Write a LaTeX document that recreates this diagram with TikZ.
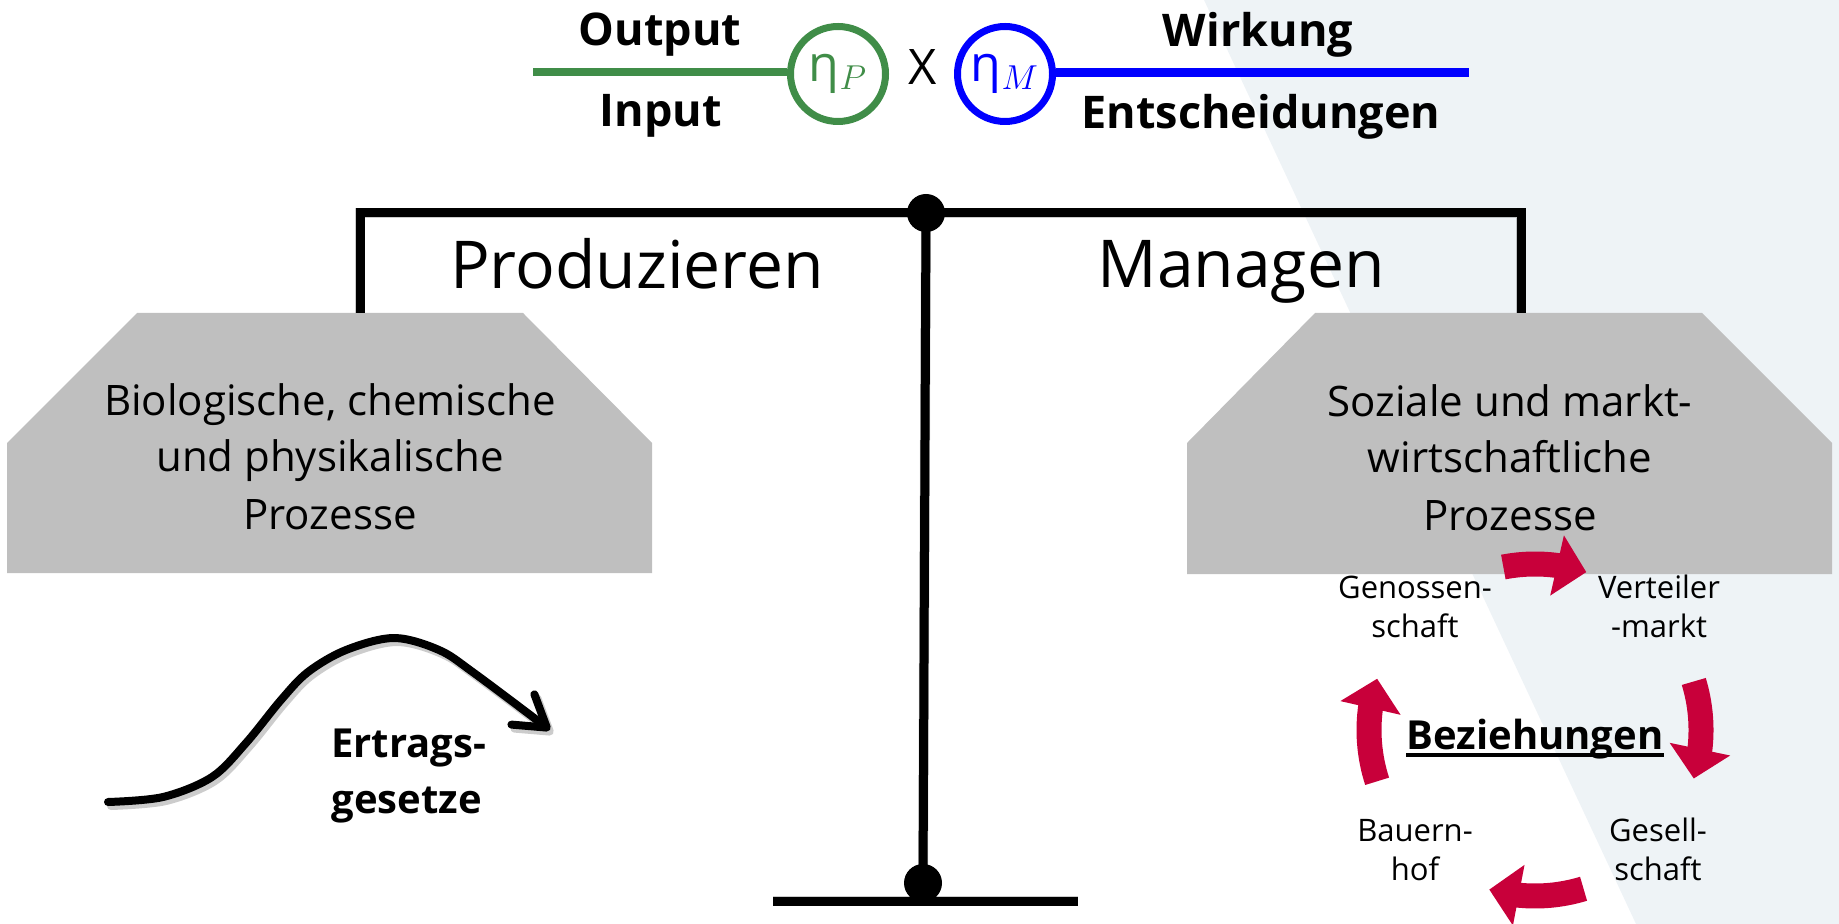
\documentclass[tikz,border=0pt]{standalone}
\usepackage{fontspec}
\setmainfont{Open Sans}
\usetikzlibrary{arrows.meta,bending}
\definecolor{pgreen}{RGB}{64,141,72}
\definecolor{mblue}{RGB}{0,0,255}
\definecolor{crim}{RGB}{200,0,58}
\definecolor{trapgrey}{RGB}{191,191,191}
\definecolor{bglight}{RGB}{238,243,246}
\begin{document}
\begin{tikzpicture}[x=0.5pt,y=-0.5pt,
  lbl/.style={inner sep=0pt, anchor=base},
  topbold/.style={lbl, font=\fontsize{22.5pt}{27pt}\selectfont\bfseries},
  bigword/.style={lbl, font=\fontsize{33pt}{40pt}\selectfont},
  traptext/.style={lbl, align=center, font=\fontsize{21pt}{28.5pt}\selectfont},
  cyclbl/.style={lbl, align=center, font=\fontsize{15.5pt}{19.5pt}\selectfont},
  etacirc/.style={circle, line width=3.5pt, minimum size=47.5pt, inner sep=0pt, font=\fontsize{25pt}{30pt}\selectfont},
  beam/.style={line width=4.5pt, black},
  beamshadow/.style={line width=5pt, black, opacity=0.2},
  pivot/.style={circle, fill=black, minimum size=19pt, inner sep=0pt},
  trap/.style={fill=trapgrey},
  redarrow/.style={crim, line width=12.5pt, -{Triangle[width=30pt,length=15pt]}},
  curve/.style={line width=4pt, line cap=round, line join=round, -{Straight Barb[length=15pt,width=19pt,round]}},
]
\useasboundingbox (0,0) rectangle (1839,924);
% background
\fill[bglight] (1204,0) -- (1839,0) -- (1839,924) -- (1636,924) -- cycle;

% trapezoids
\fill[trap] (137,313) -- (523,313) -- (652,443) -- (652,573) -- (7,573) -- (7,443) -- cycle;
\fill[trap] (1315,313) -- (1702,313) -- (1832,443) -- (1832,574) -- (1187,574) -- (1187,443) -- cycle;

% balance
\coordinate (bl) at (360,313);
\coordinate (bL) at (360,213);
\coordinate (bR) at (1521,213);
\coordinate (br) at (1521,313);
\coordinate (T) at (926,213);
\coordinate (B) at (923,883);
\coordinate (baseL) at (773,901);
\coordinate (baseR) at (1078,901);
\begin{scope}[shift={(3,4)}]
  \draw[beamshadow] (bl) -- (bL) -- (bR) -- (br);
  \draw[beamshadow] (T) -- (B);
  \draw[beamshadow] (baseL) -- (baseR);
\end{scope}
\draw[beam] (bl) -- (bL) -- (bR) -- (br);
\draw[beam] (T) -- (B);
\draw[beam] (baseL) -- (baseR);
\node[pivot] (topdot) at (T) {};
\node[pivot] (botdot) at (B) {};

% formula
\node[etacirc, draw=pgreen, text=pgreen] (etaP) at (838,74) {η$_{P}$};
\node[etacirc, draw=mblue, text=mblue] (etaM) at (1005,74) {η$_{M}$};
\coordinate (gL) at (533,72);
\coordinate (bEnd) at (1469,73);
\draw[pgreen, line width=4pt] (gL) -- (gL -| etaP.west);
\draw[mblue, line width=4.5pt] (bEnd -| etaM.east) -- (bEnd);
\node[lbl, font=\fontsize{24.5pt}{30pt}\selectfont] (times) at (923,85) {X};
\node[topbold] (output) at (660,46) {Output};
\node[topbold] (input) at (661,127) {Input};
\node[topbold] (wirkung) at (1258,47) {Wirkung};
\node[topbold] (entsch) at (1261,129) {Entscheidungen};

% headings
\node[bigword] (prod) at (637,289) {Produzieren};
\node[bigword] (manag) at (1241,288) {Managen};

% trapezoid texts (base = last line)
\node[traptext] (lefttext) at (330,529) {Biologische, chemische\\und physikalische\\Prozesse};
\node[traptext] (righttext) at (1510,530) {Soziale und markt-\\wirtschaftliche\\Prozesse};

% Ertragsgesetze
\begin{scope}[shift={(3,4)}]
\draw[curve, opacity=0.2] plot[smooth, tension=0.55] coordinates {(108,802) (163,797) (212,777) (246,743) (281,700) (308,672) (346,650) (394,638) (439,650) (474,673) (550,730)};
\end{scope}
\draw[curve] plot[smooth, tension=0.55] coordinates {(108,802) (163,797) (212,777) (246,743) (281,700) (308,672) (346,650) (394,638) (439,650) (474,673) (550,730)};
\node[lbl, anchor=base west, align=left, font=\fontsize{20pt}{28pt}\selectfont\bfseries] (ertrag) at (331,813) {Ertrags-\\gesetze};

% cycle
\node[cyclbl] (genossen) at (1415,637) {Genossen-\\schaft};
\node[cyclbl] (verteiler) at (1659,637) {Verteiler\\-markt};
\node[cyclbl] (bauern) at (1415,880) {Bauern-\\hof};
\node[cyclbl] (gesell) at (1658,880) {Gesell-\\schaft};
\node[lbl, font=\fontsize{20pt}{24pt}\selectfont\bfseries] (bez) at (1535,749) {Beziehungen};
\draw[line width=2pt] ([yshift=-3pt]bez.base west) -- ([yshift=-3pt]bez.base east);
\coordinate (C) at (1535,730);
\draw[redarrow] ([shift={(101:83pt)}]C) arc[start angle=101, end angle=72, radius=83pt];
\draw[redarrow] ([shift={(17:83pt)}]C) arc[start angle=17, end angle=-17, radius=83pt];
\draw[redarrow] ([shift={(-73:83pt)}]C) arc[start angle=-73, end angle=-106, radius=83pt];
\draw[redarrow] ([shift={(198:83pt)}]C) arc[start angle=198, end angle=162, radius=83pt];
\end{tikzpicture}
\end{document}
